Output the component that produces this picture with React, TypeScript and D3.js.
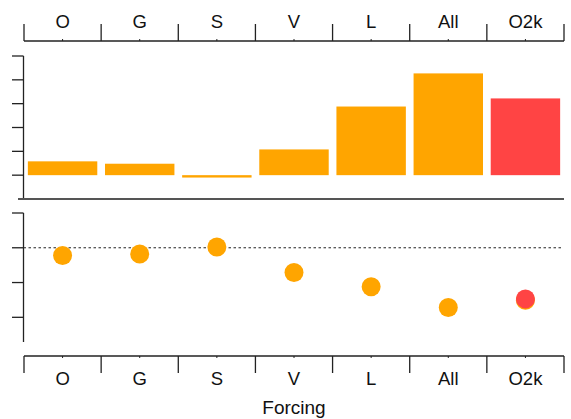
import React from 'react';
import * as d3 from 'd3';

const categories = ['O', 'G', 'S', 'V', 'L', 'All', 'O2k'];
// top panel bar heights (O2k drawn in red)
const barValues = [0.58, 0.48, -0.1, 1.08, 2.88, 4.27, 3.22];
// bottom panel points
const pointValues = [-0.22, -0.18, 0.02, -0.71, -1.12, -1.72, -1.51];
const highlightPoint = -1.47;
const topTicks = [0, 1, 2, 3, 4, 5];
const bottomTicks = [-2, -1, 0, 1];

const ORANGE = '#FFA500';
const RED = '#FF4444';
const FONT = '"Liberation Sans", Arial, Helvetica, sans-serif';

const W = 571;
const H = 419;

const App: React.FC = () => {
  const x = d3.scaleBand().domain(categories).range([24, 564]).padding(0);
  const step = x.step();
  const yTop = d3.scaleLinear().domain([-1, 5]).range([199, 56]);
  const yBot = d3.scaleLinear().domain([-2.71, 1]).range([342, 213]);
  const axisX = 23.5;
  const last = categories.length - 1;
  const bounds = categories.map(c => x(c)!).concat([x(categories[last])! + step]);

  return (
    <svg width={W} height={H} style={{ position: 'absolute', left: 0, top: 0 }} fontFamily={FONT}>
      {/* top category axis */}
      <line x1={24} x2={564} y1={41} y2={41} stroke="#222" strokeWidth={1.3} />
      {bounds.map((b, i) => (
        <line key={'tt' + i} x1={b} x2={b} y1={24} y2={41} stroke="#222" strokeWidth={1.3} />
      ))}
      {categories.map(c => (
        <g key={'tl' + c}>
          <line x1={x(c)! + step / 2} x2={x(c)! + step / 2} y1={41} y2={39} stroke="#222" strokeWidth={1} />
          <text x={x(c)! + step / 2} y={28} textAnchor="middle" fontSize={18.5} fill="#111">{c}</text>
        </g>
      ))}

      {/* top panel */}
      <line x1={axisX} x2={axisX} y1={yTop(5)} y2={199} stroke="#222" strokeWidth={1.3} />
      {topTicks.map(t => (
        <line key={'yt' + t} x1={12} x2={axisX} y1={yTop(t)} y2={yTop(t)} stroke="#222" strokeWidth={1.3} />
      ))}
      {categories.map((c, i) => {
        const v = barValues[i];
        const y0 = yTop(Math.max(0, v));
        const y1 = yTop(Math.min(0, v));
        return (
          <rect key={'b' + c} x={x(c)! + step * 0.05} width={step * 0.9} y={y0} height={Math.max(y1 - y0, 1)}
            fill={i === last ? RED : ORANGE} />
        );
      })}
      <line x1={18} x2={564} y1={199} y2={199} stroke="#555" strokeWidth={2} />

      {/* bottom panel */}
      <line x1={axisX} x2={axisX} y1={213} y2={342} stroke="#222" strokeWidth={1.3} />
      {bottomTicks.map(t => (
        <line key={'yb' + t} x1={12} x2={axisX} y1={yBot(t)} y2={yBot(t)} stroke="#222" strokeWidth={1.3} />
      ))}
      <line x1={axisX} x2={563} y1={yBot(0)} y2={yBot(0)} stroke="#222" strokeWidth={1} strokeDasharray="2.5,2.5" />
      {categories.map((c, i) => (
        <circle key={'p' + c} cx={x(c)! + step / 2} cy={yBot(pointValues[i])} r={9.5} fill={ORANGE} />
      ))}
      <circle cx={x(categories[last])! + step / 2} cy={yBot(highlightPoint)} r={9.5} fill={RED} />

      {/* bottom category axis */}
      <line x1={24} x2={564} y1={356} y2={356} stroke="#222" strokeWidth={1.3} />
      {bounds.map((b, i) => (
        <line key={'bt' + i} x1={b} x2={b} y1={356} y2={373} stroke="#222" strokeWidth={1.3} />
      ))}
      {categories.map(c => (
        <g key={'bl' + c}>
          <line x1={x(c)! + step / 2} x2={x(c)! + step / 2} y1={356} y2={358} stroke="#222" strokeWidth={1} />
          <text x={x(c)! + step / 2} y={385} textAnchor="middle" fontSize={18.5} fill="#111">{c}</text>
        </g>
      ))}
      <text x={294} y={414} textAnchor="middle" fontSize={19} fill="#111">Forcing</text>
    </svg>
  );
};

export default App;
